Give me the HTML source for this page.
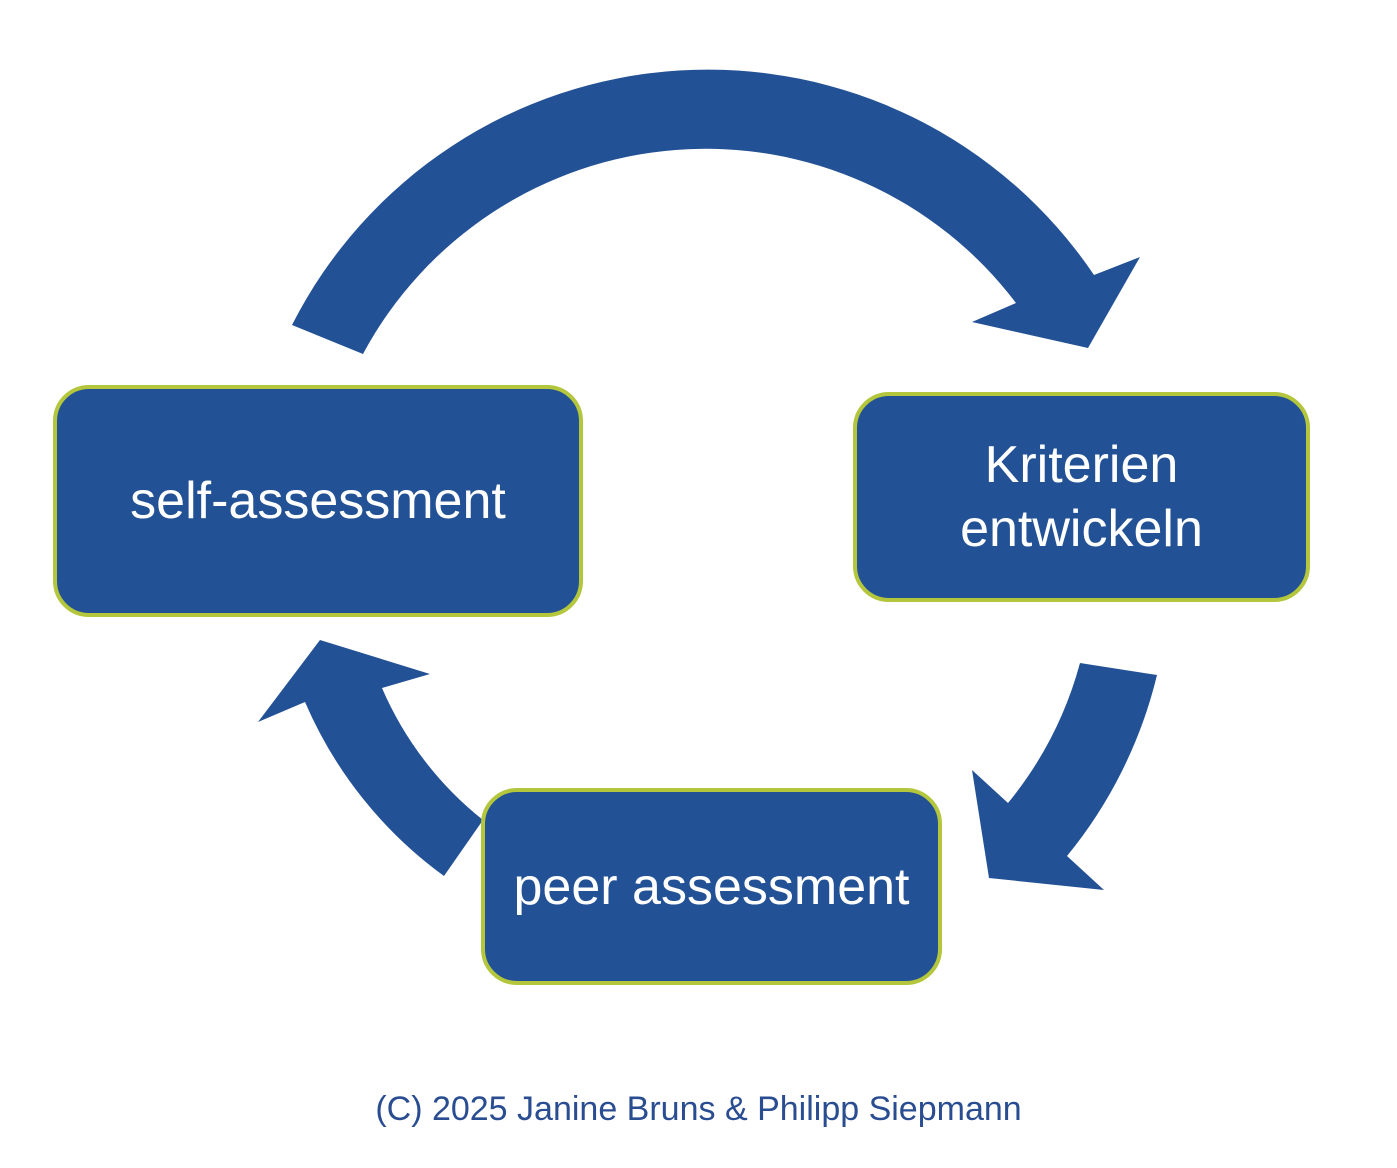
<!DOCTYPE html>
<html><head><meta charset="utf-8"><style>
body{margin:0;background:#fff;}
.wrap{position:relative;width:1397px;height:1168px;overflow:hidden;font-family:"Liberation Sans",sans-serif;}
svg{position:absolute;left:0;top:0;}
.box{position:absolute;box-sizing:border-box;background:#235195;border:4px solid #b3c63c;border-radius:36px;color:#fff;display:flex;align-items:center;justify-content:center;text-align:center;font-size:52px;line-height:64px;}
.foot{position:absolute;left:0;width:1397px;top:1090px;text-align:center;color:#2a4d91;font-size:34px;}
</style></head><body><div class="wrap">
<svg width="1397" height="1168">
<path fill="#235195" d="M292 325 A466 466 0 0 1 1094 275 L1140 257 L1088 348 L972 322 L1016 303 A389 389 0 0 0 363 354 Z"/>
<path fill="#235195" d="M1080 663 A376 376 0 0 1 1008 803 L972 770 L989 878 L1104 890 L1067 856 A454 454 0 0 0 1157 675 Z"/>
<path fill="#235195" d="M483 820 A340 340 0 0 1 382 688 L430 674 L320 640 L258 722 L305 702 A420 420 0 0 0 444 876 Z"/>
</svg>
<div class="box" style="left:53px;top:385px;width:530px;height:232px;">self-assessment</div>
<div class="box" style="left:853px;top:392px;width:457px;height:210px;">Kriterien<br>entwickeln</div>
<div class="box" style="left:481px;top:788px;width:461px;height:197px;">peer assessment</div>
<div class="foot">(C) 2025 Janine Bruns &amp; Philipp Siepmann</div>
</div></body></html>
